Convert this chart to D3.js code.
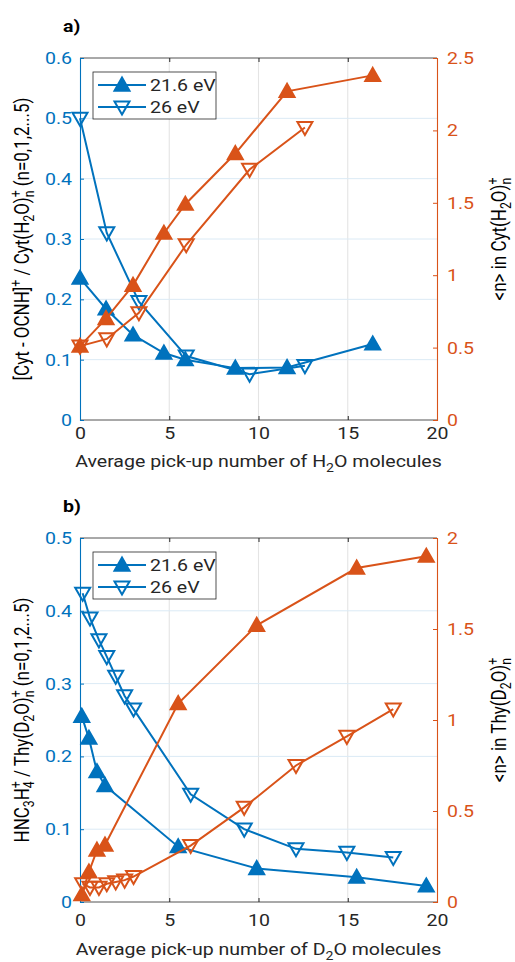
<!DOCTYPE html>
<html>
<head>
<meta charset="utf-8">
<script src="https://cdn.jsdelivr.net/npm/d3@7"></script>
<style>
  body { margin: 0; background: #fff; }
  text { font-family: Roboto, "Liberation Sans", sans-serif; }
</style>
</head>
<body>
<div id="chart"></div>
<script>
// x ticks shared by both panels
const xTicks = [0, 5, 10, 15, 20];

// panel a) Cytosine + H2O
const xA216 = [0, 1.46, 2.97, 4.7, 5.9, 8.7, 11.6, 16.4];
const ratioA216 = [0.235, 0.184, 0.141, 0.111, 0.1, 0.086, 0.087, 0.126];
const nA216 = [0.51, 0.70, 0.93, 1.29, 1.49, 1.84, 2.27, 2.38];
const xA26 = [0, 1.5, 3.3, 5.95, 9.5, 12.6];
const ratioA26 = [0.5, 0.31, 0.196, 0.106, 0.076, 0.09];
const nA26 = [0.51, 0.56, 0.74, 1.21, 1.73, 2.02];
const leftTicksA = [0, 0.1, 0.2, 0.3, 0.4, 0.5, 0.6];
const rightTicksA = [0, 0.5, 1, 1.5, 2, 2.5];

// panel b) Thymine + D2O
const xB216 = [0.1, 0.5, 0.95, 1.4, 5.5, 9.9, 15.5, 19.4];
const ratioB216 = [0.255, 0.225, 0.179, 0.16, 0.076, 0.046, 0.034, 0.022];
const nB216 = [0.04, 0.165, 0.285, 0.313, 1.09, 1.52, 1.835, 1.9];
const xB26 = [0.15, 0.56, 1.06, 1.5, 2.0, 2.5, 3.0, 6.2, 9.2, 12.1, 14.95, 17.55];
const ratioB26 = [0.424, 0.39, 0.36, 0.337, 0.31, 0.283, 0.265, 0.148, 0.1, 0.073, 0.068, 0.061];
const nB26 = [0.1, 0.08, 0.08, 0.1, 0.11, 0.12, 0.14, 0.31, 0.52, 0.75, 0.91, 1.06];
const leftTicksB = [0, 0.1, 0.2, 0.3, 0.4, 0.5];
const rightTicksB = [0, 0.5, 1, 1.5, 2];

const legendNames = ['21.6 eV', '26 eV'];

const BLUE = '#0072BD', ORANGE = '#D95319', INK = '#262626';
const FS = 17;
const SX = 1.15; // the figure is a little wider than tall, text too

const svg = d3.select('#chart').append('svg')
    .attr('width', 515)
    .attr('height', 962);

// text with sub/superscripts, stacked ones like MATLAB's ^+_n
function richText(t, parts) {
    let shift = 0;
    const small = FS * 0.72;
    parts.forEach(p => {
        if (typeof p === 'string') {
            t.append('tspan').attr('dy', -shift).text(p);
            shift = 0;
        } else if (p.sub) {
            const d = FS * 0.27;
            t.append('tspan').attr('dy', d - shift).attr('font-size', small).text(p.sub);
            shift = d;
        } else if (p.sup) {
            const d = -FS * 0.4;
            t.append('tspan').attr('dy', d - shift).attr('font-size', small).text(p.sup);
            shift = d;
        } else if (p.stack) {
            const d1 = -FS * 0.4;
            const s = t.append('tspan').attr('dy', d1 - shift).attr('font-size', small).text(p.stack[0]);
            const w = s.node().getComputedTextLength();
            const d2 = FS * 0.27;
            t.append('tspan').attr('dx', -w).attr('dy', d2 - d1).attr('font-size', small).text(p.stack[1]);
            shift = d2;
        }
    });
}

function tri(up) {
    const s = 7.5;
    return up ? `M0,${-s}L${s},${s * 0.75}L${-s},${s * 0.75}Z`
              : `M0,${s}L${s},${-s * 0.75}L${-s},${-s * 0.75}Z`;
}

function drawPanel(cfg) {
    const left = 80, right = 437, top = cfg.top, bottom = cfg.bottom;
    const x = d3.scaleLinear().domain([0, 20]).range([left, right]);
    const yL = d3.scaleLinear().domain(d3.extent(cfg.leftTicks)).range([bottom, top]);
    const yR = d3.scaleLinear().domain(d3.extent(cfg.rightTicks)).range([bottom, top]);
    const g = svg.append('g');

    // grid
    g.append('g').selectAll('line').data(xTicks.slice(1, -1)).join('line')
        .attr('x1', d => x(d)).attr('x2', d => x(d)).attr('y1', top).attr('y2', bottom)
        .attr('stroke', '#e4e4e4').attr('stroke-width', 1.1);
    g.append('g').selectAll('line').data(cfg.leftTicks.slice(1, -1)).join('line')
        .attr('x1', left).attr('x2', right).attr('y1', d => yL(d)).attr('y2', d => yL(d))
        .attr('stroke', '#dbeaf5').attr('stroke-width', 1);

    // box lines
    g.append('line').attr('x1', left).attr('x2', right).attr('y1', top).attr('y2', top).attr('stroke', INK).attr('stroke-width', 0.8);
    g.append('line').attr('x1', left).attr('x2', right).attr('y1', bottom).attr('y2', bottom).attr('stroke', INK).attr('stroke-width', 0.8);

    // axes
    const ax = g.append('g').attr('transform', `translate(0,${bottom})`)
        .call(d3.axisBottom(x).tickValues(xTicks).tickSize(-4).tickPadding(cfg.xPad));
    ax.select('.domain').remove();
    ax.selectAll('line').attr('stroke', INK);
    ax.selectAll('text').attr('fill', INK).attr('font-size', FS).attr('font-family', null)
        .attr('transform', `scale(${SX},1)`);

    const axT = g.append('g').attr('transform', `translate(0,${top})`)
        .call(d3.axisTop(x).tickValues(xTicks).tickSize(-4).tickFormat(''));
    axT.select('.domain').remove();
    axT.selectAll('line').attr('stroke', INK);

    const ay = g.append('g').attr('transform', `translate(${left},0)`)
        .call(d3.axisLeft(yL).tickValues(cfg.leftTicks).tickSize(-4).tickFormat(d3.format('')));
    ay.select('.domain').attr('stroke', BLUE).attr('stroke-width', 1.1);
    ay.selectAll('line').attr('stroke', BLUE);
    ay.selectAll('text').attr('fill', BLUE).attr('font-size', FS).attr('font-family', null)
        .attr('x', -8 / SX).attr('transform', `scale(${SX},1)`);

    const ayR = g.append('g').attr('transform', `translate(${right},0)`)
        .call(d3.axisRight(yR).tickValues(cfg.rightTicks).tickSize(-4).tickFormat(d3.format('')));
    ayR.select('.domain').attr('stroke', ORANGE).attr('stroke-width', 1.1);
    ayR.selectAll('line').attr('stroke', ORANGE);
    ayR.selectAll('text').attr('fill', ORANGE).attr('font-size', FS).attr('font-family', null)
        .attr('x', 10 / SX).attr('transform', `scale(${SX},1)`);

    // series
    const series = [
        {xs: cfg.x216, ys: cfg.r216, y: yL, c: BLUE, up: true},
        {xs: cfg.x26, ys: cfg.r26, y: yL, c: BLUE, up: false},
        {xs: cfg.x216, ys: cfg.n216, y: yR, c: ORANGE, up: true},
        {xs: cfg.x26, ys: cfg.n26, y: yR, c: ORANGE, up: false}
    ];
    series.forEach(s => {
        const pts = s.xs.map((v, i) => [v, s.ys[i]]);
        g.append('path').datum(pts)
            .attr('d', d3.line().x(d => x(d[0])).y(d => s.y(d[1])))
            .attr('fill', 'none').attr('stroke', s.c).attr('stroke-width', 2);
        g.append('g').selectAll('path').data(pts).join('path')
            .attr('transform', d => `translate(${x(d[0])},${s.y(d[1])})`)
            .attr('d', tri(s.up))
            .attr('fill', s.up ? s.c : 'none')
            .attr('stroke', s.c).attr('stroke-width', 2).attr('stroke-linejoin', 'miter');
    });

    // legend
    const lg = g.append('g').attr('transform', `translate(93,${top + 14})`);
    lg.append('rect').attr('width', 123).attr('height', 47)
        .attr('fill', '#fff').attr('stroke', INK).attr('stroke-width', 0.8);
    legendNames.forEach((name, i) => {
        const yy = 13 + i * 22;
        lg.append('line').attr('x1', 5).attr('x2', 53).attr('y1', yy).attr('y2', yy)
            .attr('stroke', BLUE).attr('stroke-width', 2);
        lg.append('path').attr('transform', `translate(29,${yy})`).attr('d', tri(i === 0))
            .attr('fill', i === 0 ? BLUE : 'none').attr('stroke', BLUE).attr('stroke-width', 2);
        lg.append('text').attr('transform', `translate(57,${yy + 6}) scale(${SX},1)`)
            .attr('font-size', FS).attr('fill', INK).text(name);
    });

    // panel label
    svg.append('text').attr('transform', `translate(63,${top - 26}) scale(${SX},1)`)
        .attr('font-size', 17).attr('font-weight', 'bold').attr('fill', '#000').text(cfg.label);

    // axis titles
    const cy = (top + bottom) / 2;
    const tl = svg.append('text').attr('transform', `translate(29,${cy}) scale(${SX},1) rotate(-90)`)
        .attr('text-anchor', 'middle').attr('font-size', FS).attr('fill', '#000');
    richText(tl, cfg.leftTitle);
    const tr = svg.append('text').attr('transform', `translate(506,${cy}) scale(${SX},1) rotate(-90)`)
        .attr('text-anchor', 'middle').attr('font-size', FS).attr('fill', '#000');
    richText(tr, cfg.rightTitle);
    const tx = svg.append('text').attr('transform', `translate(${(left + right) / 2},${bottom + cfg.xTitleGap}) scale(${SX},1)`)
        .attr('text-anchor', 'middle').attr('font-size', FS).attr('fill', INK);
    richText(tx, cfg.xTitle);
}

drawPanel({
    label: 'a)', top: 58, bottom: 420, xPad: 7, xTitleGap: 47,
    leftTicks: leftTicksA, rightTicks: rightTicksA,
    x216: xA216, r216: ratioA216, n216: nA216,
    x26: xA26, r26: ratioA26, n26: nA26,
    leftTitle: ['[Cyt - OCNH]', {sup: '+'}, ' / Cyt(H', {sub: '2'}, 'O)', {stack: ['+', 'n']}, ' (n=0,1,2...5)'],
    rightTitle: ['<n> in Cyt(H', {sub: '2'}, 'O)', {stack: ['+', 'n']}],
    xTitle: ['Average pick-up number of H', {sub: '2'}, 'O molecules']
});

drawPanel({
    label: 'b)', top: 538, bottom: 902, xPad: 12, xTitleGap: 53,
    leftTicks: leftTicksB, rightTicks: rightTicksB,
    x216: xB216, r216: ratioB216, n216: nB216,
    x26: xB26, r26: ratioB26, n26: nB26,
    leftTitle: ['HNC', {sub: '3'}, 'H', {stack: ['+', '4']}, ' / Thy(D', {sub: '2'}, 'O)', {stack: ['+', 'n']}, ' (n=0,1,2...5)'],
    rightTitle: ['<n> in Thy(D', {sub: '2'}, 'O)', {stack: ['+', 'n']}],
    xTitle: ['Average pick-up number of D', {sub: '2'}, 'O molecules']
});
</script>
</body>
</html>
